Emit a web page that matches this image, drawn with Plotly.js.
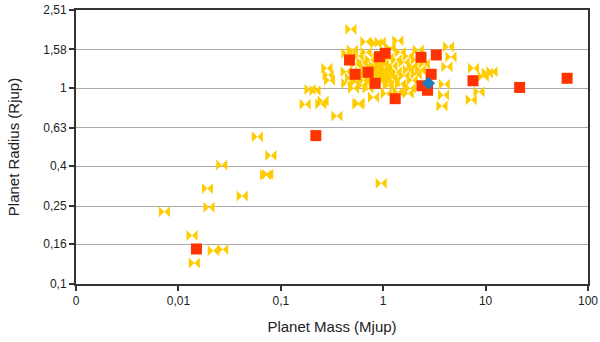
<!DOCTYPE html>
<html>
<head>
<meta charset="utf-8">
<script src="https://cdn.plot.ly/plotly-3.0.1.min.js"></script>
<style>
  html, body { margin: 0; padding: 0; background: #fff; }
  #chart { width: 600px; height: 342px; }
</style>
</head>
<body>
<div id="chart"></div>
<script>
// known planets (yellow bowties)
var knownMass = [
  0.059, 0.080, 0.0265, 0.0746, 0.071, 0.0192, 0.042, 0.0073, 0.0199, 0.0136,
  0.0219, 0.0271, 0.0143, 0.956,
  0.353, 0.173, 0.246, 0.259, 0.193, 0.216, 0.282, 0.299, 0.290, 0.483,
  0.677, 0.935, 0.855, 1.39, 0.582, 0.804, 1.755,
  4.35, 4.59, 4.19, 3.95, 3.88, 3.75, 7.63, 9.5, 11.55, 8.62, 7.25, 10.4,
  0.442, 0.435, 0.442, 0.513, 0.566,
  0.50, 0.57, 0.62, 0.68, 0.75, 0.82, 0.89, 1.0, 1.12, 1.22, 1.34, 1.47, 1.60, 1.76, 1.92, 2.10,
  0.60, 0.65, 0.71, 0.78, 0.85, 0.94, 1.02, 1.12, 1.22, 1.34, 1.47, 1.60, 1.76, 1.92, 2.10,
  0.54, 0.48, 1.07, 1.40, 1.84, 2.30, 2.52, 2.20, 1.17,
  0.89, 1.07, 0.98, 0.82, 0.68, 1.28, 0.62, 0.54,
  0.70, 0.78, 0.90, 0.95, 1.05, 0.74, 1.15, 0.86, 0.66, 1.0
];
var knownRadius = [
  0.566, 0.453, 0.406, 0.364, 0.360, 0.308, 0.282, 0.234, 0.247, 0.177,
  0.148, 0.150, 0.128, 0.327,
  0.722, 0.828, 0.831, 0.861, 0.986, 0.974, 1.265, 1.10, 1.17, 2.00,
  1.73, 1.72, 1.70, 1.75, 0.838, 0.90, 0.943,
  1.63, 1.445, 1.29, 1.05, 0.924, 0.812, 1.265, 1.149, 1.216, 0.961, 0.874, 1.197,
  1.51, 1.216, 1.06, 1.0, 0.831,
  1.57, 1.46, 1.36, 1.53, 1.40, 1.30, 1.43, 1.33, 1.43, 1.30, 1.40, 1.53, 1.36, 1.46, 1.30, 1.40,
  1.21, 1.10, 1.00, 1.13, 1.21, 1.10, 1.18, 1.03, 1.13, 1.21, 1.05, 1.16, 1.24, 1.10, 1.18,
  1.33, 1.13, 0.94, 0.96, 1.0, 1.24, 1.33, 1.57, 1.61,
  1.27, 1.24, 1.08, 1.05, 1.27, 1.08, 1.03, 1.08,
  1.20, 1.27, 1.18, 1.35, 1.12, 1.08, 1.17, 1.15, 1.16, 1.25
];

// red squares
var redMass = [0.469, 0.532, 0.713, 0.835, 0.920, 1.046, 1.31, 2.34, 3.30, 2.94,
  2.39, 2.71, 7.53, 21.5, 62.5, 0.22, 0.015];
var redRadius = [1.395, 1.179, 1.207, 1.06, 1.45, 1.51, 0.885, 1.44, 1.48, 1.179,
  1.03, 0.977, 1.093, 1.01, 1.125, 0.573, 0.151];

// blue diamond
var blueMass = [2.77];
var blueRadius = [1.06];

var xTickVals = [0.001, 0.01, 0.1, 1, 10, 100];
var xTickText = ['0', '0,01', '0,1', '1', '10', '100'];
var yTickVals = [0.1, 0.16, 0.25, 0.4, 0.63, 1, 1.58, 2.51];
var yTickText = ['0,1', '0,16', '0,25', '0,4', '0,63', '1', '1,58', '2,51'];

var data = [
  {
    x: knownMass, y: knownRadius, type: 'scatter', mode: 'markers',
    marker: {symbol: 'bowtie', size: 11, color: '#FFCC00', line: {width: 0}}
  },
  {
    x: redMass, y: redRadius, type: 'scatter', mode: 'markers',
    marker: {symbol: 'square', size: 11, color: '#FF3300', line: {width: 0}}
  },
  {
    x: blueMass, y: blueRadius, type: 'scatter', mode: 'markers',
    marker: {symbol: 'diamond', size: 10, color: '#1A7DC0', line: {width: 0}}
  }
];

var layout = {
  width: 600,
  height: 342,
  margin: {l: 76, r: 12, t: 10, b: 58},
  paper_bgcolor: '#fff',
  plot_bgcolor: '#fff',
  showlegend: false,
  font: {family: 'Liberation Sans, Arial, sans-serif', color: '#222'},
  xaxis: {
    type: 'log',
    range: [-3, 2],
    tickvals: xTickVals,
    ticktext: xTickText,
    ticks: 'outside',
    ticklen: 5,
    tickwidth: 2,
    tickcolor: '#333',
    tickfont: {size: 12, color: '#222'},
    showgrid: false,
    zeroline: false,
    showline: true,
    linecolor: '#333',
    linewidth: 2,
    mirror: true,
    title: {text: 'Planet Mass (Mjup)', font: {size: 15, color: '#222'}, standoff: 14}
  },
  yaxis: {
    type: 'log',
    range: [-1, 0.4],
    tickvals: yTickVals,
    ticktext: yTickText,
    ticks: 'outside',
    ticklen: 5,
    tickwidth: 2,
    tickcolor: '#333',
    tickfont: {size: 12, color: '#222'},
    showgrid: true,
    gridcolor: '#aaaaaa',
    gridwidth: 1,
    zeroline: false,
    showline: true,
    linecolor: '#333',
    linewidth: 2,
    mirror: true,
    title: {text: 'Planet Radius (Rjup)', font: {size: 15, color: '#222'}, standoff: 20}
  }
};

Plotly.newPlot('chart', data, layout, {displayModeBar: false, staticPlot: true});
</script>
</body>
</html>
